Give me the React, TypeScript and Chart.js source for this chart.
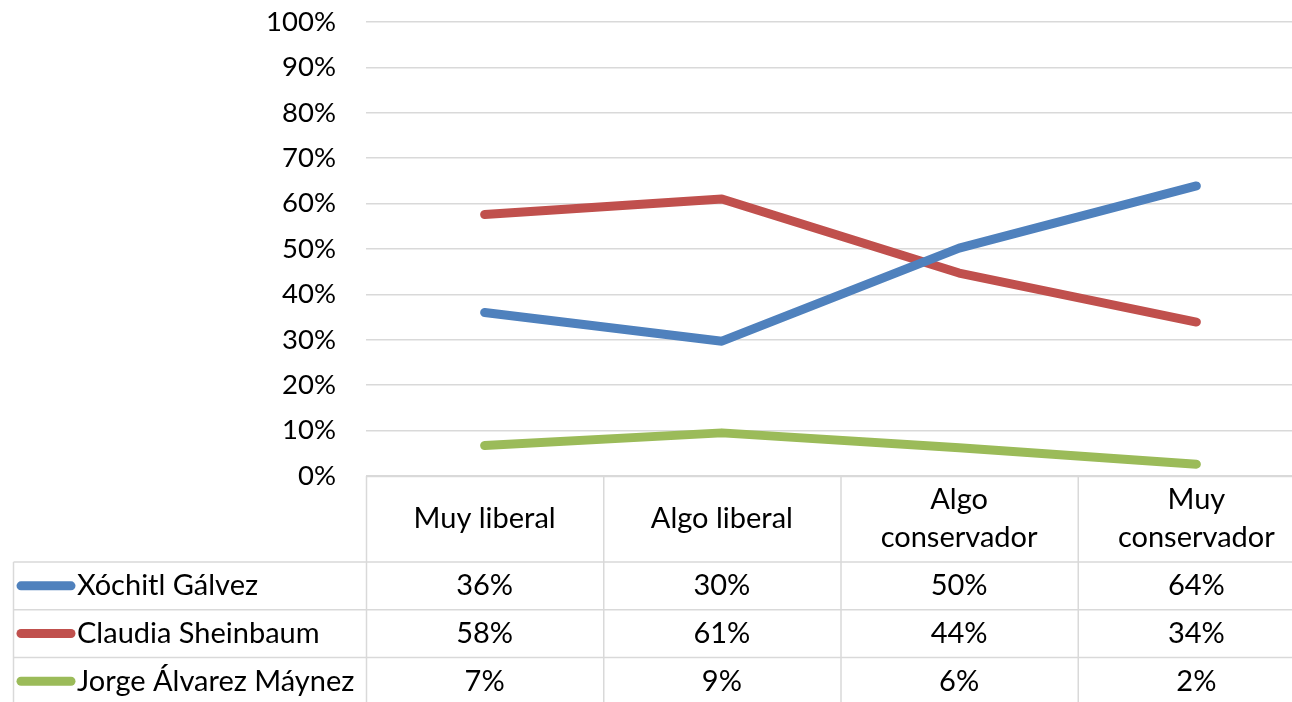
import React, { useEffect, useRef } from "react";
import { Chart, registerables } from "chart.js";

Chart.register(...registerables);

const categories: string[][] = [["Muy liberal"], ["Algo liberal"], ["Algo", "conservador"], ["Muy", "conservador"]];
const seriesNames = ["Xóchitl Gálvez", "Claudia Sheinbaum", "Jorge Álvarez Máynez"];
const seriesColors = ["#4F81BD", "#C0504D", "#9BBB59"];
const xochitl = [36, 29.7, 50.2, 63.9];
const claudia = [57.6, 61.0, 44.7, 33.9];
const jorge = [6.7, 9.5, 6.2, 2.6];
const xochitlLabels = ["36%", "30%", "50%", "64%"];
const claudiaLabels = ["58%", "61%", "44%", "34%"];
const jorgeLabels = ["7%", "9%", "6%", "2%"];
const yTicks = [0, 10, 20, 30, 40, 50, 60, 70, 80, 90, 100];

const FONT = "Lato, 'Open Sans', sans-serif";
const GRID = "#D9D9D9";

export default function App() {
  const ref = useRef<HTMLCanvasElement | null>(null);

  useEffect(() => {
    if (!ref.current) return;
    const seriesValues = [xochitl, claudia, jorge];
    const seriesLabels = [xochitlLabels, claudiaLabels, jorgeLabels];

    const tablePlugin = {
      id: "dataTable",
      afterDraw(chart: any) {
        const ctx = chart.ctx as CanvasRenderingContext2D;
        const area = chart.chartArea;
        const xs = chart.scales.x;
        const n = categories.length;
        const colW = (area.right - area.left) / n;
        const top = area.bottom;
        const headerBottom = top + 86;
        const rowH = 47.7;
        const bottom = chart.height + 2;
        const legendLeft = 13.5;
        ctx.save();
        ctx.strokeStyle = GRID;
        ctx.lineWidth = 1.5;
        ctx.beginPath();
        ctx.moveTo(area.left, top + 0.5);
        ctx.lineTo(area.right, top + 0.5);
        for (let r = 0; r < 3; r++) {
          const y = headerBottom + r * rowH;
          ctx.moveTo(legendLeft, y);
          ctx.lineTo(area.right, y);
        }
        ctx.moveTo(legendLeft, headerBottom);
        ctx.lineTo(legendLeft, bottom);
        for (let c = 0; c <= n; c++) {
          const x = area.left + c * colW + 0.5;
          ctx.moveTo(x, top);
          ctx.lineTo(x, bottom);
        }
        ctx.stroke();

        ctx.fillStyle = "#000";
        ctx.font = `29px ${FONT}`;
        ctx.textBaseline = "middle";
        ctx.textAlign = "center";
        categories.forEach((lines, i) => {
          const cx = xs.getPixelForValue(i);
          const cy = (top + headerBottom) / 2;
          const lh = 38;
          lines.forEach((ln, k) => {
            const y = cy + (k - (lines.length - 1) / 2) * lh;
            ctx.fillText(ln, cx, y);
          });
        });
        seriesNames.forEach((name, r) => {
          const cy = headerBottom + r * rowH + rowH / 2;
          ctx.strokeStyle = seriesColors[r];
          ctx.lineWidth = 9;
          ctx.lineCap = "round";
          ctx.beginPath();
          ctx.moveTo(21, cy);
          ctx.lineTo(71, cy);
          ctx.stroke();
          ctx.textAlign = "left";
          ctx.fillStyle = "#000";
          ctx.fillText(name, 77, cy);
          ctx.textAlign = "center";
          seriesLabels[r].forEach((lab, i) => {
            ctx.fillText(lab, xs.getPixelForValue(i), cy);
          });
        });
        ctx.restore();
      },
    };

    const chart = new Chart(ref.current, {
      type: "line",
      data: {
        labels: categories.map((c) => c.join(" ")),
        datasets: seriesNames.map((name, i) => ({
          label: name,
          data: seriesValues[i],
          borderColor: seriesColors[i],
          backgroundColor: seriesColors[i],
          borderWidth: 9,
          borderCapStyle: "round" as const,
          borderJoinStyle: "round" as const,
          pointRadius: 0,
          tension: 0,
        })),
      },
      options: {
        responsive: false,
        animation: false,
        layout: { padding: { top: 22, bottom: 226, left: 0, right: 0 } },
        plugins: { legend: { display: false }, tooltip: { enabled: false } },
        scales: {
          x: {
            type: "category",
            offset: true,
            display: false,
          },
          y: {
            min: 0,
            max: 100,
            afterBuildTicks(scale: any) {
              scale.ticks = yTicks.map((v) => ({ value: v }));
            },
            afterFit(scale: any) {
              scale.width = 366;
              scale.paddingTop = 0;
              scale.paddingBottom = 0;
            },
            ticks: {
              padding: 30,
              color: "#000",
              font: { family: FONT, size: 27.5 },
              callback: (v: any) => `${v}%`,
            },
            grid: { color: GRID, lineWidth: 1.5, drawTicks: false },
            border: { display: false },
          },
        },
      },
      plugins: [tablePlugin],
    });
    return () => chart.destroy();
  }, []);

  return (
    <div style={{ position: "fixed", left: 0, top: 0, width: 1292, height: 702, overflow: "hidden", background: "#fff" }}>
      <canvas ref={ref} width={1315} height={702} style={{ display: "block" }} />
    </div>
  );
}
